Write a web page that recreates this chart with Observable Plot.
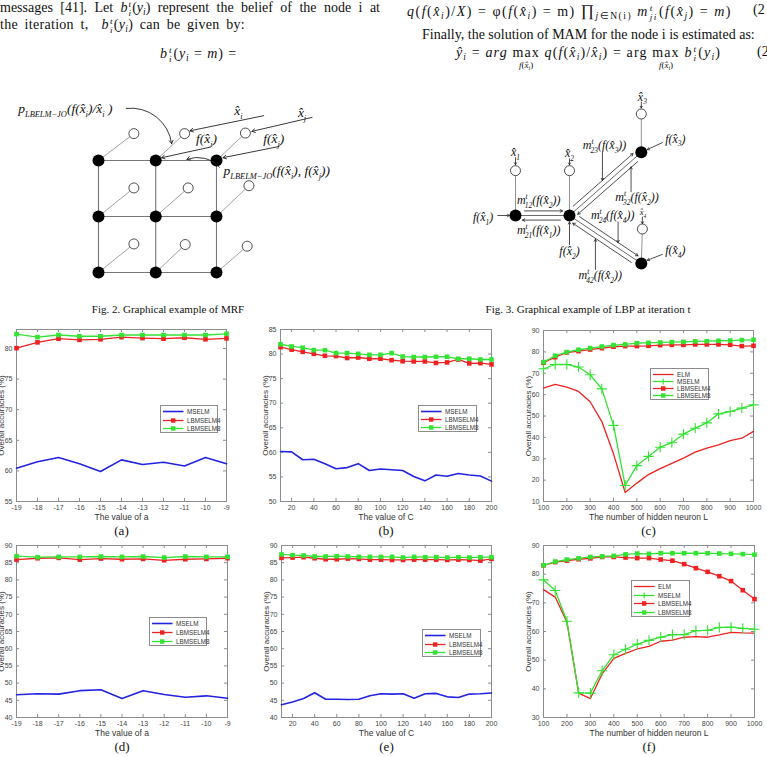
<!DOCTYPE html>
<html><head><meta charset="utf-8">
<script src="https://cdn.jsdelivr.net/npm/d3@7"></script>
<script src="https://cdn.jsdelivr.net/npm/@observablehq/plot@0.6"></script>
<style>
html,body{margin:0;padding:0;background:#fff;}
#page{position:relative;width:767px;height:757px;overflow:hidden;background:#fff;font-family:"Liberation Serif","Times New Roman",serif;color:#111;}
.t{position:absolute;white-space:nowrap;font-size:14px;line-height:1;}
.t sub{font-size:0.68em;vertical-align:-0.3em;line-height:0;}
.ss{display:inline-block;vertical-align:-0.42em;font-size:0.66em;line-height:0.95;text-align:left;margin:0 1px;}
.ss span{display:block;}
.mx{display:inline-block;position:relative;}
.under{position:absolute;left:50%;transform:translateX(-50%);top:15px;font-size:9px;white-space:nowrap;letter-spacing:0;}
.cap{position:absolute;font-size:11px;line-height:1;white-space:nowrap;transform:translateX(-50%);}
.panel{position:absolute;}
.legend{position:absolute;background:#fff;border:1px solid #8c8c8c;box-sizing:border-box;font-family:"Liberation Sans",Arial,sans-serif;font-size:6.3px;color:#333;}
.legend .row{position:absolute;left:1px;display:flex;align-items:center;height:7px;}
.legend svg{display:block;margin-right:2px;}
</style>
</head><body>
<div id="page">
  <!-- top text, left column -->
  <div class="t" id="l1" style="left:0;top:0px;width:380px;text-align:justify;text-align-last:justify">messages [41]. Let <i>b</i><span class="ss"><span><i>t</i></span><span><i>i</i></span></span>(<i>y</i><sub><i>i</i></sub>) represent the belief of the node i at</div>
  <div class="t" id="l2" style="left:0;top:17px">the iteration t, &nbsp;<i>b</i><span class="ss"><span><i>t</i></span><span><i>i</i></span></span>(<i>y</i><sub><i>i</i></sub>) can be given by:</div>
  <div class="t" id="l3" style="left:160px;top:46px"><i>b</i><span class="ss"><span><i>t</i></span><span><i>i</i></span></span>(<i>y</i><sub><i>i</i></sub> = <i>m</i>) =</div>
  <!-- top text, right column -->
  <div class="t" id="r1" style="left:407px;top:3px"><i>q</i>(<i>f</i>(<i>x̂</i><sub><i>i</i></sub>)/<i>X</i>) = φ(<i>f</i>(<i>x̂</i><sub><i>i</i></sub>) = m) <span style="font-size:1.15em">∏</span><sub><i>j</i>∈N(i)</sub> <i>m</i><span class="ss"><span><i>t</i></span><span><i>ji</i></span></span>(<i>f</i>(<i>x̂</i><sub><i>j</i></sub>) = <i>m</i>)</div>
  <div class="t" style="left:753px;top:3px">(2</div>
  <div class="t" style="left:422px;top:28px">Finally, the solution of MAM for the node i is estimated as:</div>
  <div class="t" id="r3" style="left:456px;top:45px"><i>ŷ</i><sub><i>i</i></sub> = <i>arg</i> <span class="mx">max<span class="under"><i>f</i>(<i>x̂</i><sub><i>i</i></sub>)</span></span> <i>q</i>(<i>f</i>(<i>x̂</i><sub><i>i</i></sub>)/<i>x̂</i><sub><i>i</i></sub>) = arg <span class="mx">max<span class="under"><i>f</i>(<i>x̂</i><sub><i>i</i></sub>)</span></span> <i>b</i><span class="ss"><span><i>t</i></span><span><i>i</i></span></span>(<i>y</i><sub><i>i</i></sub>)</div>
  <div class="t" style="left:757px;top:45px">(2</div>
  <div class="cap" style="left:168px;top:304px">Fig. 2. Graphical example of MRF</div>
  <div class="cap" style="left:588px;top:304px">Fig. 3. Graphical example of LBP at iteration t</div>
</div>
<script>
// ---------------- DATA ----------------
const seriesNames = ["ELM", "MSELM", "LBMSELM4", "LBMSELM8"];

// (a) value of a
const aX = [-19,-18,-17,-16,-15,-14,-13,-12,-11,-10,-9];
const aMSELM = [60.45,61.5,62.2,61.15,59.9,61.8,61.05,61.4,60.8,62.2,61.15];
const aLB4 = [80.05,81.0,81.6,81.4,81.5,81.85,81.7,81.6,81.75,81.5,81.65];
const aLB8 = [82.35,81.85,82.2,82.0,82.0,82.2,82.2,82.2,82.2,82.2,82.4];
const aYTicks = [55,60,65,70,75,80];

// (b) value of C
const bX = [10,20,30,40,50,60,70,80,90,100,110,120,130,140,150,160,170,180,190,200];
const bMSELM = [60.18,60.1,58.5,58.6,57.7,56.65,56.9,57.7,56.3,56.6,56.45,56.3,55.1,54.2,55.4,55.15,55.7,55.4,55.2,54.15];
const bLB4 = [81.4,80.9,80.45,80.05,79.65,79.6,79.2,79.3,79.05,79.05,78.75,78.55,78.5,78.5,78.2,78.3,78.9,78.1,78.15,77.9];
const bLB8 = [82.0,81.55,81.3,80.8,80.8,80.2,80.2,80.05,79.85,79.85,80.2,79.5,79.4,79.4,79.45,79.45,79.05,79.05,78.9,78.9];
const bXTicks = [20,40,60,80,100,120,140,160,180,200];
const bYTicks = [50,55,60,65,70,75,80,85];

// (c) hidden neurons
const cX = [100,150,200,250,300,350,400,450,500,550,600,650,700,750,800,850,900,950,1000];
const cELM = [63.0,64.75,63.5,61.5,56.65,47.4,32.3,14.2,18.6,22.6,25.4,27.8,30.3,33.1,35.0,36.5,38.5,39.6,42.8];
const cMSELM = [72.1,74.1,74.1,72.9,69.3,62.7,45.6,17.5,26.8,31.1,35.4,37.5,41.5,44.3,46.8,51.0,52.1,53.7,55.2];
const cLB4 = [74.9,77.5,79.7,80.35,81.1,81.75,82.4,82.7,82.7,82.85,83.15,83.3,83.3,83.5,83.5,83.5,83.3,82.7,82.85];
const cLB8 = [75.2,78.2,79.9,81.0,81.75,82.5,83.15,83.5,84.1,84.25,84.4,84.6,84.7,84.9,85.0,85.2,85.3,85.5,85.65];
const cXTicks = [100,200,300,400,500,600,700,800,900,1000];
const cYTicks = [10,20,30,40,50,60,70,80,90];

// (d) value of a
const dMSELM = [46.6,46.9,46.8,47.8,48.05,45.5,47.8,46.7,45.9,46.3,45.6];
const dLB4 = [85.9,86.3,86.4,85.9,86.2,86.0,86.1,85.7,86.0,86.1,86.3];
const dLB8 = [86.9,86.6,86.7,86.7,86.8,86.7,86.8,86.5,86.8,86.7,86.7];
const dYTicks = [40,45,50,55,60,65,70,75,80,85,90];

// (e) value of C
const eMSELM = [43.7,44.5,45.5,47.2,45.3,45.3,45.25,45.3,46.3,46.9,46.8,46.9,45.6,46.9,47.0,46.0,45.8,46.8,46.9,47.1];
const eLB4 = [86.4,86.5,86.6,86.3,86.0,86.0,86.2,86.1,85.9,85.9,85.8,85.8,85.9,85.9,85.9,85.8,85.9,85.8,85.6,86.1];
const eLB8 = [87.4,87.2,87.1,86.8,86.8,86.9,86.8,86.7,86.7,86.7,86.7,86.5,86.7,86.6,86.6,86.5,86.6,86.5,86.6,86.6];
const eYTicks = [40,45,50,55,60,65,70,75,80,85,90];

// (f) hidden neurons
const fELM = [74.6,72.0,63.2,38.5,36.6,45.2,50.6,52.4,53.9,54.8,56.6,57.0,58.0,58.2,58.0,58.8,59.7,59.5,59.4];
const fMSELM = [78.0,74.3,63.6,38.6,38.5,46.3,51.9,53.8,55.6,56.9,58.0,58.9,58.9,60.3,60.4,61.4,61.5,61.1,60.8];
const fLB4 = [83.1,84.2,84.7,85.2,85.5,86.0,86.0,85.8,85.6,85.6,85.1,84.7,83.5,82.1,80.8,79.3,77.6,74.4,71.3];
const fLB8 = [83.1,84.4,85.1,85.5,86.0,86.2,86.4,86.9,87.2,87.1,87.3,87.3,87.3,87.3,87.3,87.2,87.1,87.0,86.8];
const fYTicks = [30,40,50,60,70,80,90];

// Diagram: MRF (grid units)
const mrfHidden = [{u:0,v:0},{u:0.97,v:0},{u:2,v:0},{u:0,v:1},{u:0.97,v:1},{u:2,v:1},{u:0,v:2},{u:0.97,v:2},{u:2,v:2}];
const mrfObserved = [{u:0.6,v:-0.48},{u:1.46,v:-0.48},{u:2.49,v:-0.49},{u:0.6,v:0.49},{u:1.52,v:0.49},{u:2.55,v:0.45},{u:0.6,v:1.49},{u:1.47,v:1.5},{u:2.52,v:1.53}];
const mrfLabels = [
  {u:-1.36,v:-0.93,t:"p_{LBELM−JO}(f(x̂_i)/x̂_i )",a:"start"},
  {u:2.37,v:-0.89,t:"x̂_i",a:"middle"},
  {u:3.45,v:-0.86,t:"x̂_j",a:"middle"},
  {u:1.83,v:-0.39,t:"f(x̂_i)",a:"middle"},
  {u:2.97,v:-0.39,t:"f(x̂_j)",a:"middle"},
  {u:2.12,v:0.18,t:"p_{LBELM−JO}(f(x̂_i), f(x̂_j))",a:"start"}
];
const mrfPointers = [
  {u1:2.8,v1:-0.8,u2:1.55,v2:-0.53},
  {u1:3.62,v1:-0.77,u2:2.6,v2:-0.52},
  {u1:1.9,v1:-0.24,u2:1.07,v2:-0.05},
  {u1:3.06,v1:-0.25,u2:2.11,v2:-0.05}
];
const mrfCurved = [
  {u1:0.47,v1:-0.93,u2:1.24,v2:-0.3,bend:45},
  {u1:2.05,v1:0.12,u2:1.5,v2:-0.02,bend:-35}
];

// Diagram: LBP (units of the x1-x2 distance)
const lbpHidden = [{id:1,u:0,v:0},{id:2,u:1,v:0},{id:3,u:2.33,v:-1.17},{id:4,u:2.33,v:0.89}];
const lbpObserved = [{id:1,u:0,v:-0.83},{id:2,u:1,v:-0.83},{id:3,u:2.33,v:-1.88},{id:4,u:2.35,v:0.25}];
const lbpEdges = [[1,2],[2,3],[2,4]];
const lbpLabels = [
  {u:0,v:-1.17,t:"x̂_1",s:11},{u:1,v:-1.15,t:"x̂_2",s:11},{u:2.35,v:-2.2,t:"x̂_3",s:11},{u:2.36,v:-0.06,t:"x̂_4",s:8},
  {u:-0.6,v:0.03,t:"f(x̂_1)",s:11},{u:1,v:0.66,t:"f(x̂_2)",s:11},{u:2.96,v:-1.42,t:"f(x̂_3)",s:11},{u:2.96,v:0.65,t:"f(x̂_4)",s:11},
  {u:0.43,v:-0.28,t:"m^t_{12}(f(x̂_2))",s:11},{u:0.43,v:0.28,t:"m^t_{21}(f(x̂_1))",s:11},
  {u:1.65,v:-1.3,t:"m^t_{23}(f(x̂_3))",s:11},{u:2.25,v:-0.34,t:"m^t_{32}(f(x̂_2))",s:11},
  {u:1.8,v:0.0,t:"m^t_{24}(f(x̂_4))",s:11},{u:1.57,v:1.11,t:"m^t_{42}(f(x̂_2))",s:11}
];
const lbpPointers = [
  {u1:0,v1:-1.07,u2:0,v2:-0.94},{u1:1,v1:-1.05,u2:1,v2:-0.94},{u1:2.33,v1:-2.1,u2:2.33,v2:-1.99},{u1:2.35,v1:0.03,u2:2.35,v2:0.15},
  {u1:-0.33,v1:0,u2:-0.11,v2:0},{u1:1,v1:0.54,u2:1,v2:0.12},{u1:2.72,v1:-1.35,u2:2.44,v2:-1.22},{u1:2.72,v1:0.72,u2:2.44,v2:0.83},
  {u1:1.61,v1:-1.17,u2:1.61,v2:-0.65},{u1:2.14,v1:-0.44,u2:2.14,v2:-0.9},
  {u1:1.9,v1:0.12,u2:1.9,v2:0.5},{u1:1.48,v1:1.0,u2:1.48,v2:0.44}
];

// ---------------- STYLE ----------------
const RED = "#ee2222", GREEN = "#33e233", BLUE = "#2323e0", AX = "#8c8c8c";
const page = document.getElementById("page");
const NS = "http://www.w3.org/2000/svg";

// stretch a line of the body text to the width it has in the page
function fitWidth(id, target, byWords) {
  const el = document.getElementById(id);
  const w = el.getBoundingClientRect().width;
  if (byWords) {
    const n = (el.textContent.match(/[ \u00a0]/g) || []).length || 1;
    el.style.letterSpacing = "0.3px";
    const w2 = el.getBoundingClientRect().width;
    el.style.wordSpacing = ((target - w2) / n).toFixed(3) + "px";
  } else {
    const n = el.textContent.length;
    el.style.letterSpacing = ((target - w) / n).toFixed(3) + "px";
  }
}
fitWidth("r1", 331);
fitWidth("r3", 282);
fitWidth("l3", 78);
fitWidth("l2", 245, true);

function richify(svg) {
  svg.querySelectorAll("text").forEach(el => {
    const s = el.textContent;
    if (!/[_^]/.test(s)) return;
    const g = el.closest("[font-size]");
    const fs = g ? parseFloat(g.getAttribute("font-size")) : 12;
    const small = fs * 0.62;
    while (el.firstChild) el.removeChild(el.firstChild);
    let shift = 0, lastSup = 0, buf = "", i = 0;
    const emit = (str, mode) => {
      if (!str) return;
      const t = document.createElementNS(NS, "tspan");
      t.textContent = str;
      const target = mode === "sub" ? fs * 0.3 : mode === "sup" ? -fs * 0.42 : 0;
      if (target !== shift) { t.setAttribute("dy", target - shift); shift = target; }
      if (mode) { t.setAttribute("font-size", small); t.setAttribute("font-style", "italic"); }
      if (mode === "sub" && lastSup) t.setAttribute("dx", -lastSup);
      lastSup = mode === "sup" ? str.length * small * 0.4 : 0;
      el.appendChild(t);
    };
    while (i < s.length) {
      const c = s[i];
      if (c === "_" || c === "^") {
        emit(buf, null); buf = "";
        let grp = "";
        if (s[i + 1] === "{") { const j = s.indexOf("}", i + 2); grp = s.slice(i + 2, j); i = j + 1; }
        else { grp = s[i + 1]; i += 2; }
        emit(grp, c === "_" ? "sub" : "sup");
      } else { buf += c; i++; }
    }
    emit(buf, null);
  });
}

// ---------------- DIAGRAMS ----------------
function place(node, left, top) {
  const d = document.createElement("div");
  d.className = "panel"; d.style.left = left + "px"; d.style.top = top + "px";
  d.appendChild(node); page.appendChild(d); return d;
}

(function mrf() {
  const links = [];
  mrfHidden.forEach((a, i) => {
    if (i % 3 < 2) links.push({u1:a.u, v1:a.v, u2:mrfHidden[i+1].u, v2:mrfHidden[i+1].v});
    if (i < 6) links.push({u1:a.u, v1:a.v, u2:mrfHidden[i+3].u, v2:mrfHidden[i+3].v});
  });
  const spokes = mrfHidden.map((a, i) => ({u1:a.u, v1:a.v, u2:mrfObserved[i].u, v2:mrfObserved[i].v}));
  const font = {fontFamily:"Liberation Serif, DejaVu Serif, serif", fontStyle:"italic", fontSize:13.5, fill:"#111"};
  const svg = Plot.plot({
    width:380, height:220, margin:0,
    x:{domain:[-1.661, 4.780], axis:null},
    y:{domain:[-1.607, 2.321], reverse:true, axis:null},
    style:{background:"transparent", overflow:"visible"},
    marks:[
      Plot.link(links, {x1:"u1", y1:"v1", x2:"u2", y2:"v2", stroke:"#777", strokeWidth:1.1}),
      Plot.link(spokes, {x1:"u1", y1:"v1", x2:"u2", y2:"v2", stroke:"#8a8a8a", strokeWidth:0.8}),
      Plot.dot(mrfHidden, {x:"u", y:"v", r:6, fill:"#000"}),
      Plot.dot(mrfObserved, {x:"u", y:"v", r:5, fill:"#fff", stroke:"#222", strokeWidth:0.8}),
      Plot.arrow(mrfPointers, {x1:"u1", y1:"v1", x2:"u2", y2:"v2", stroke:"#222", strokeWidth:0.9, headLength:6}),
      Plot.arrow(mrfCurved.filter(d => d.bend > 0), {x1:"u1", y1:"v1", x2:"u2", y2:"v2", bend:45, stroke:"#222", strokeWidth:0.9, headLength:6}),
      Plot.arrow(mrfCurved.filter(d => d.bend < 0), {x1:"u1", y1:"v1", x2:"u2", y2:"v2", bend:-35, stroke:"#222", strokeWidth:0.9, headLength:6}),
      Plot.text(mrfLabels.filter(d => d.a === "start"), {x:"u", y:"v", text:"t", textAnchor:"start", ...font}),
      Plot.text(mrfLabels.filter(d => d.a === "middle"), {x:"u", y:"v", text:"t", textAnchor:"middle", ...font})
    ]
  });
  richify(svg);
  place(svg, 0, 70);
})();

(function lbp() {
  const byId = Object.fromEntries(lbpHidden.map(d => [d.id, d]));
  const obsId = Object.fromEntries(lbpObserved.map(d => [d.id, d]));
  const edges = lbpEdges.map(([a, b]) => ({u1:byId[a].u, v1:byId[a].v, u2:byId[b].u, v2:byId[b].v}));
  const spokes = lbpHidden.map(d => ({u1:d.u, v1:d.v, u2:obsId[d.id].u, v2:obsId[d.id].v}));
  const off = 0.085;
  const msgs = [];
  lbpEdges.forEach(([a, b]) => {
    const A = byId[a], B = byId[b];
    const dx = B.u - A.u, dy = B.v - A.v, L = Math.hypot(dx, dy);
    const px = -dy / L * off, py = dx / L * off;
    msgs.push({u1:A.u - px, v1:A.v - py, u2:B.u - px, v2:B.v - py});
    msgs.push({u1:B.u + px, v1:B.v + py, u2:A.u + px, v2:A.v + py});
  });
  const base = {fontFamily:"Liberation Serif, DejaVu Serif, serif", fontStyle:"italic", fill:"#111", textAnchor:"middle"};
  const svg = Plot.plot({
    width:387, height:220, margin:0,
    x:{domain:[-2.5, 4.667], axis:null},
    y:{domain:[-2.685, 1.389], reverse:true, axis:null},
    style:{background:"transparent", overflow:"visible"},
    marks:[
      Plot.link(spokes, {x1:"u1", y1:"v1", x2:"u2", y2:"v2", stroke:"#777", strokeWidth:0.8}),
      Plot.link(edges, {x1:"u1", y1:"v1", x2:"u2", y2:"v2", stroke:"#444", strokeWidth:0.8}),
      Plot.arrow(msgs, {x1:"u1", y1:"v1", x2:"u2", y2:"v2", stroke:"#222", strokeWidth:0.8, headLength:5, insetStart:9, insetEnd:7}),
      Plot.dot(lbpHidden, {x:"u", y:"v", r:6, fill:"#000"}),
      Plot.dot(lbpObserved, {x:"u", y:"v", r:5, fill:"#fff", stroke:"#222", strokeWidth:0.8}),
      Plot.arrow(lbpPointers, {x1:"u1", y1:"v1", x2:"u2", y2:"v2", stroke:"#222", strokeWidth:0.8, headLength:4.5}),
      Plot.text(lbpLabels.filter(d => d.s === 11), {x:"u", y:"v", text:"t", fontSize:12, ...base}),
      Plot.text(lbpLabels.filter(d => d.s === 8), {x:"u", y:"v", text:"t", fontSize:8.5, ...base})
    ]
  });
  richify(svg);
  place(svg, 380, 70);
})();

// ---------------- CHARTS ----------------
const mL = 30, mR = 8, mT = 8, mB = 44;
const toRows = (xs, ys) => xs.map((x, i) => ({x, y: ys[i]}));

function chart(cfg) {
  const W = cfg.R - cfg.L, H = cfg.B - cfg.T;
  const marks = [
    Plot.frame({stroke:AX, strokeWidth:1}),
    Plot.tickX(cfg.xTicks, {x:d => d, insetTop:H - 3, stroke:AX}),
    Plot.tickX(cfg.xTicks, {x:d => d, insetBottom:H - 3, stroke:AX}),
    Plot.tickY(cfg.yTicks, {y:d => d, insetRight:W - 3, stroke:AX}),
    Plot.tickY(cfg.yTicks, {y:d => d, insetLeft:W - 3, stroke:AX}),
    Plot.axisX(cfg.xTicks, {tickSize:0, tickPadding:4, label:null, tickFormat:d => String(d), fill:"#444"}),
    Plot.axisY(cfg.yTicks, {tickSize:0, tickPadding:4, label:null, tickFormat:d => String(d), fill:"#444"}),
    Plot.text([cfg.xLabel], {frameAnchor:"bottom", dy:18, fontSize:8.5, fill:"#333"}),
    Plot.text(["Overall accuracies (%)"], {frameAnchor:"left", dx:-15, rotate:-90, textAnchor:"middle", fontSize:8, fill:"#333"}),
    Plot.text([cfg.cap], {frameAnchor:"bottom", dy:33, fontSize:13, fontFamily:"Liberation Serif, Times New Roman, serif", fill:"#111"})
  ];
  cfg.series.forEach(s => {
    const rows = toRows(cfg.x, s.y);
    marks.push(Plot.line(rows, {x:"x", y:"y", stroke:s.color, strokeWidth:s.w}));
    if (s.marker === "square") marks.push(Plot.dot(rows, {x:"x", y:"y", symbol:"square", r:2.6, fill:s.color}));
    if (s.marker === "plus") marks.push(Plot.dot(rows, {x:"x", y:"y", symbol:"plus", r:3.4, stroke:s.color, strokeWidth:1.1}));
  });
  const svg = Plot.plot({
    width:W + mL + mR, height:H + mT + mB,
    marginLeft:mL, marginRight:mR, marginTop:mT, marginBottom:mB,
    x:{type:"linear", domain:cfg.xDomain},
    y:{type:"linear", domain:cfg.yDomain},
    style:{fontFamily:"Liberation Sans, Arial, sans-serif", fontSize:"7px", background:"transparent", overflow:"visible"},
    marks
  });
  const box = place(svg, cfg.L - mL, cfg.T - mT);
  const lg = document.createElement("div");
  lg.className = "legend";
  const [lx, ly, lw, lh] = cfg.legend;
  Object.assign(lg.style, {left:(mL + lx) + "px", top:(mT + ly) + "px", width:lw + "px", height:lh + "px"});
  const n = cfg.series.length, rowH = (lh - 3) / n;
  cfg.series.forEach((s, i) => {
    const row = document.createElement("div");
    row.className = "row";
    row.style.top = (1.5 + i * rowH + (rowH - 7) / 2) + "px";
    let mk = "";
    if (s.marker === "square") mk = `<rect x="9" y="1.3" width="4.4" height="4.4" fill="${s.color}"/>`;
    if (s.marker === "plus") mk = `<path d="M11.2,0.4V6.6M8.1,3.5H14.3" stroke="${s.color}" stroke-width="1.1"/>`;
    row.innerHTML = `<svg width="23" height="7"><line x1="1" x2="21.5" y1="3.5" y2="3.5" stroke="${s.color}" stroke-width="${s.w}"/>${mk}</svg><span>${s.name}</span>`;
    lg.appendChild(row);
  });
  box.appendChild(lg);
}

const three = (m, l4, l8) => [
  {name:seriesNames[1], y:m, color:BLUE, w:1.6, marker:null},
  {name:seriesNames[2], y:l4, color:RED, w:1.3, marker:"square"},
  {name:seriesNames[3], y:l8, color:GREEN, w:1.3, marker:"square"}
];
const four = (e, m, l4, l8) => [
  {name:seriesNames[0], y:e, color:RED, w:1.3, marker:null},
  {name:seriesNames[1], y:m, color:GREEN, w:1.3, marker:"plus"},
  {name:seriesNames[2], y:l4, color:RED, w:1.3, marker:"square"},
  {name:seriesNames[3], y:l8, color:GREEN, w:1.3, marker:"square"}
];

chart({L:16, R:226, T:329, B:501, x:aX, xDomain:[-19,-9], yDomain:[55,83.1], xTicks:aX, yTicks:aYTicks,
  xLabel:"The value of a", cap:"(a)", series:three(aMSELM, aLB4, aLB8), legend:[144,76,58,28]});
chart({L:280, R:491, T:329, B:501, x:bX, xDomain:[10,200], yDomain:[50,85], xTicks:bXTicks, yTicks:bYTicks,
  xLabel:"The value of C", cap:"(b)", series:three(bMSELM, bLB4, bLB8), legend:[138,76,59,27]});
chart({L:543, R:753, T:330, B:501, x:cX, xDomain:[100,1000], yDomain:[10,90], xTicks:cXTicks, yTicks:cYTicks,
  xLabel:"The number of hidden neuron L", cap:"(c)", series:four(cELM, cMSELM, cLB4, cLB8), legend:[107,38,59,32]});
chart({L:16, R:227, T:545, B:717, x:aX, xDomain:[-19,-9], yDomain:[40,90], xTicks:aX, yTicks:dYTicks,
  xLabel:"The value of a", cap:"(d)", series:three(dMSELM, dLB4, dLB8), legend:[133,72,58,29]});
chart({L:281, R:491, T:545, B:717, x:bX, xDomain:[10,200], yDomain:[40,90], xTicks:bXTicks, yTicks:eYTicks,
  xLabel:"The value of C", cap:"(e)", series:three(eMSELM, eLB4, eLB8), legend:[141,84,59,28]});
chart({L:543, R:754, T:545, B:717, x:cX, xDomain:[100,1000], yDomain:[30,90], xTicks:cXTicks, yTicks:fYTicks,
  xLabel:"The number of hidden neuron L", cap:"(f)", series:four(fELM, fMSELM, fLB4, fLB8), legend:[88,35,59,37]});
</script>
</body></html>
